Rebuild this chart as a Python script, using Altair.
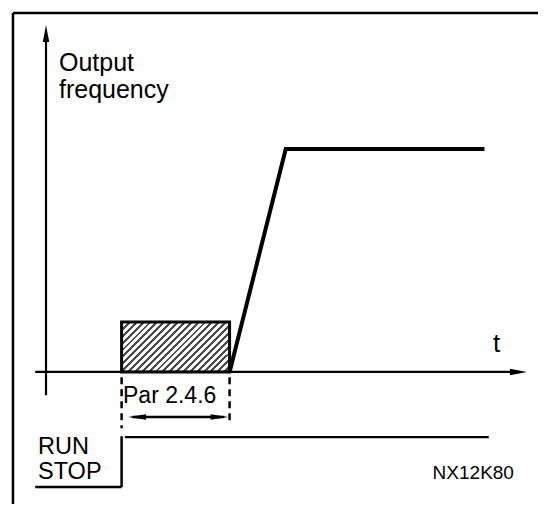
import altair as alt
import pandas as pd

# ---- diagram data (time units: Par 2.4.6 delay = 10 units; frequency in Hz-like units) ----
run_time = 7.0          # RUN command given
delay_end = 17.0        # end of start delay (Par 2.4.6)
ramp_end = 22.2         # end of acceleration ramp
flat_end = 40.6         # end of drawn output frequency
run_line_end = 41.0
x_axis_start = -1.0
x_axis_end = 43.0
x_arrow_pos = 43.75
y_axis_bottom = -5.2
y_axis_top = 74.5
y_arrow_pos = 75.9
f_max = 50.0
delay_box_height = 11.2
frame_left = -3.06
frame_top = 80.5
x_min, x_max = -3.52, 45.56
y_min, y_max = -29.6, 81.6

out_t = [delay_end, ramp_end, flat_end]
out_f = [0.0, f_max, f_max]

run_level = -14.6
stop_level = -25.8
arrow_level = -10.1

label_text = ["Output", "frequency", "t", "Par 2.4.6", "RUN", "STOP", "NX12K80"]
label_x = [1.2, 1.2, 41.4, 7.13, -0.74, -0.74, 35.8]
label_y = [67.4, 61.5, 4.4, -6.9, -18.4, -24.0, -24.0]
label_size = [25, 25, 26, 23, 23.5, 23.5, 19]

xs = alt.Scale(domain=[x_min, x_max], nice=False, zero=False)
ys = alt.Scale(domain=[y_min, y_max], nice=False, zero=False)

# solid segments
seg = pd.DataFrame({
    "x":  [0.0, x_axis_start, run_time, x_axis_start, run_time + 0.3, run_time + 1.0, frame_left, frame_left],
    "x2": [0.0, x_axis_end, run_time, run_time, run_line_end, delay_end - 0.5, x_max, frame_left],
    "y":  [y_axis_bottom, 0.0, run_level + 0.2, stop_level, run_level, arrow_level, frame_top, frame_top],
    "y2": [y_axis_top, 0.0, stop_level, stop_level, run_level, arrow_level, frame_top, y_min],
    "w":  [2.2, 2.2, 2.5, 2.5, 2.2, 2.5, 2.5, 2.5],
})
dash = pd.DataFrame({
    "x": [run_time, delay_end], "x2": [run_time, delay_end],
    "y": [-1.2, -1.2], "y2": [-12.6, -10.8],
})
box = pd.DataFrame({"x": [run_time], "x2": [delay_end], "y": [0.0], "y2": [delay_box_height]})
freq = pd.DataFrame({"t": out_t, "f": out_f})
axis_heads = pd.DataFrame({"x": [0.0, x_arrow_pos], "y": [y_arrow_pos, 0.0], "a": [0, 90]})
span_heads = pd.DataFrame({"x": [run_time + 1.43, delay_end - 0.93], "y": [arrow_level, arrow_level], "a": [270, 90]})
labels = pd.DataFrame({"text": label_text, "x": label_x, "y": label_y, "s": label_size})

# hatch pattern as a striped linear gradient
stops = []
n = 23
for i in range(n):
    a = i / n
    b = (i + 0.42) / n
    c = (i + 1) / n
    stops += [alt.GradientStop(offset=a, color="#4a4a4a"), alt.GradientStop(offset=b, color="#4a4a4a"),
              alt.GradientStop(offset=b, color="#ffffff"), alt.GradientStop(offset=c, color="#ffffff")]
hatch = alt.LinearGradient(gradient="linear", stops=stops, x1=0, y1=0, x2=1.205, y2=0.558)

rules = alt.Chart(seg).mark_rule(color="black", strokeCap="butt").encode(
    x=alt.X("x:Q", scale=xs, axis=None), x2="x2:Q",
    y=alt.Y("y:Q", scale=ys, axis=None), y2="y2:Q",
    strokeWidth=alt.StrokeWidth("w:Q", scale=None),
)
dashed = alt.Chart(dash).mark_rule(color="black", strokeWidth=2.5, strokeDash=[7, 5]).encode(
    x=alt.X("x:Q", scale=xs, axis=None), x2="x2:Q",
    y=alt.Y("y:Q", scale=ys, axis=None), y2="y2:Q",
)
rect = alt.Chart(box).mark_rect(fill=hatch, stroke="black", strokeWidth=3).encode(
    x=alt.X("x:Q", scale=xs, axis=None), x2="x2:Q",
    y=alt.Y("y:Q", scale=ys, axis=None), y2="y2:Q",
)
line = alt.Chart(freq).mark_line(color="black", strokeWidth=4, strokeJoin="miter").encode(
    x=alt.X("t:Q", scale=xs, axis=None),
    y=alt.Y("f:Q", scale=ys, axis=None),
)
heads1 = alt.Chart(axis_heads).mark_point(
    shape="M0,-1L0.38,1L-0.38,1Z", size=289, filled=True, color="black", opacity=1, strokeWidth=0
).encode(
    x=alt.X("x:Q", scale=xs, axis=None), y=alt.Y("y:Q", scale=ys, axis=None),
    angle=alt.Angle("a:Q", scale=None),
)
heads2 = alt.Chart(span_heads).mark_point(
    shape="M0,-1L0.31,1L-0.31,1Z", size=324, filled=True, color="black", opacity=1, strokeWidth=0
).encode(
    x=alt.X("x:Q", scale=xs, axis=None), y=alt.Y("y:Q", scale=ys, axis=None),
    angle=alt.Angle("a:Q", scale=None),
)
texts = alt.Chart(labels).mark_text(
    align="left", baseline="alphabetic", font="Liberation Sans", color="black"
).encode(
    x=alt.X("x:Q", scale=xs, axis=None), y=alt.Y("y:Q", scale=ys, axis=None),
    text="text:N", size=alt.Size("s:Q", scale=None),
)

chart = alt.layer(rect, line, rules, dashed, heads1, heads2, texts).properties(
    width=530, height=496, padding=0,
    autosize=alt.AutoSizeParams(type="none"),
    background="white",
).configure_view(stroke=None)

chart.save("out.html", embed_options={"renderer": "svg", "actions": False})
